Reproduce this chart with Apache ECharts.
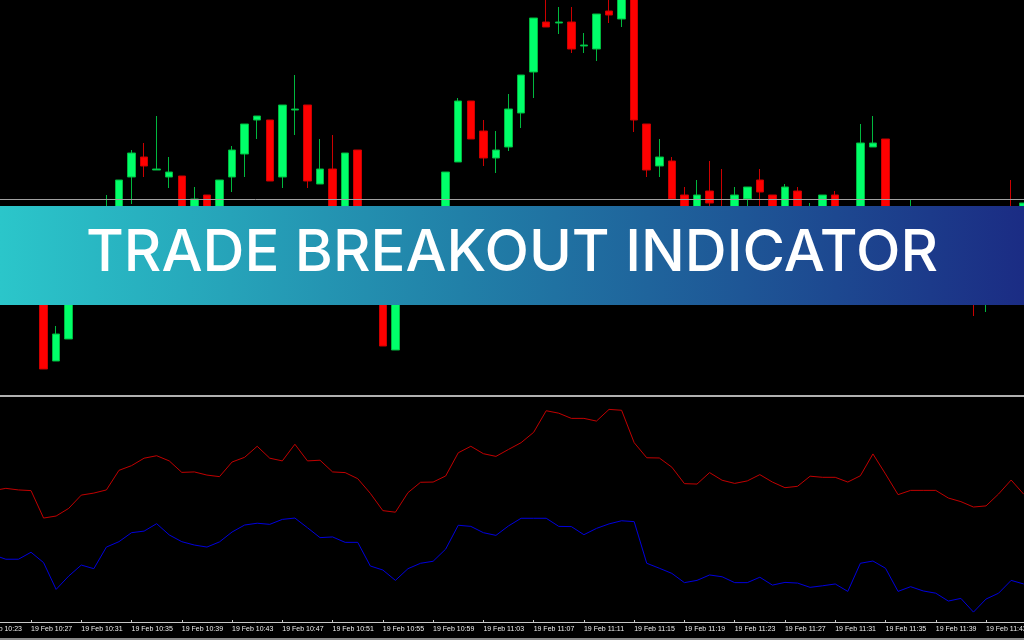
<!DOCTYPE html>
<html>
<head>
<meta charset="utf-8">
<script src="https://cdn.jsdelivr.net/npm/echarts@6.0.0/dist/echarts.min.js"></script>
<style>
html,body{margin:0;padding:0;background:#000;}
#chart{width:1024px;height:640px;}
</style>
</head>
<body>
<div id="chart"></div>
<script>
// ---- data ----
const times = [];
for (let m = 23; m <= 106; m++) {
  const h = 10 + Math.floor(m / 60);
  const mm = m % 60;
  times.push('19 Feb ' + h + ':' + (mm < 10 ? '0' + mm : mm));
}
// candles: [open, close, low, high] (price points)
const candles = [
  [1135,1155,1130,1160],[1155,1140,1133,1163],[1137,1150,1133,1155],[1150,1133,1127,1155],
  [1125,1145,1120,1150],[1173,1026,1026,1180],[1034,1061,1034,1069],[1056,1145,1056,1150],
  [1145,1170,1140,1175],[1165,1180,1160,1185],[1170,1185,1165,1200],[1180,1215,1175,1215],
  [1218,1242,1191,1245],[1238,1229,1218,1252],[1225,1226,1225,1279],[1218,1223,1207,1238],
  [1219,1170,1165,1219],[1155,1196,1150,1208],[1200,1165,1160,1200],[1175,1215,1170,1215],
  [1218,1245,1203,1249],[1241,1271,1218,1271],[1275,1279,1256,1279],[1275,1214,1214,1275],
  [1218,1290,1207,1290],[1285,1286,1260,1320],[1290,1214,1207,1290],[1211,1226,1211,1256],
  [1226,1155,1150,1260],[1150,1242,1145,1242],[1245,1135,1130,1245],[1133,1105,1100,1137],
  [1110,1049,1049,1115],[1045,1105,1045,1110],[1100,1135,1095,1140],[1130,1155,1125,1160],
  [1155,1145,1135,1160],[1145,1223,1140,1223],[1233,1294,1233,1297],[1294,1256,1256,1294],
  [1264,1237,1229,1275],[1237,1245,1222,1264],[1248,1286,1244,1301],[1282,1320,1267,1320],
  [1323,1377,1297,1377],[1373,1368,1368,1405],[1372,1373,1361,1388],[1373,1346,1342,1388],
  [1349,1350,1342,1362],[1346,1381,1334,1381],[1384,1380,1372,1400],[1376,1415,1368,1420],
  [1410,1275,1263,1415],[1271,1225,1218,1271],[1229,1238,1218,1256],[1234,1196,1196,1238],
  [1200,1165,1160,1208],[1160,1200,1155,1215],[1204,1192,1180,1234],[1185,1155,1150,1226],
  [1155,1200,1150,1208],[1196,1208,1180,1208],[1215,1203,1183,1226],[1200,1170,1165,1200],
  [1170,1208,1165,1211],[1204,1175,1170,1208],[1160,1180,1155,1192],[1165,1200,1160,1200],
  [1200,1170,1165,1204],[1165,1180,1160,1185],[1165,1252,1160,1271],[1248,1252,1248,1279],
  [1256,1135,1130,1256],[1140,1115,1110,1145],[1125,1145,1120,1196],[1145,1125,1120,1150],
  [1123,1140,1117,1145],[1140,1120,1115,1145],[1117,1133,1110,1137],[1133,1105,1079,1137],
  [1100,1125,1083,1130],[1120,1155,1115,1160],[1155,1125,1120,1215],[1135,1192,1130,1192]
];
const levelPrice = 1195.5;
const upperLine = [
  58.7,58.4,59.4,58.7,58.4,46.2,47.1,50.5,56.4,57.3,58.7,67.4,69.5,72.8,73.9,71.6,
  66.5,66.7,65.3,64.6,71.1,73.2,78.1,72.8,71.6,79.0,71.6,71.9,66.7,66.4,63.7,57.2,
  49.5,48.8,57.5,62.1,62.2,64.9,75.2,78.1,74.8,73.6,76.7,79.7,84.3,93.9,92.8,90.5,
  90.5,89.3,94.5,94.1,79.7,73.0,72.9,68.8,61.5,61.3,66.4,63.0,61.6,62.7,65.5,62.2,
  59.7,60.3,64.8,64.3,64.3,62.2,65.0,74.7,65.8,56.6,58.5,58.5,58.5,55.1,53.5,51.1,
  51.6,56.9,63.1,56.8
];
const lowerLine = [
  31.1,29.8,27.9,27.9,31.0,26.4,14.5,20.4,25.3,23.7,33.3,35.7,39.7,40.4,43.7,38.7,
  35.7,34.2,33.3,35.6,40.0,43.1,43.9,43.4,45.6,46.2,41.9,37.5,37.8,35.4,35.4,24.9,
  23.1,18.5,23.7,26.1,27.0,32.4,43.0,42.5,39.7,38.5,42.7,46.1,46.1,46.1,42.5,42.4,
  38.8,41.6,43.6,45.0,44.6,26.1,23.9,21.6,17.5,18.5,20.9,20.1,17.5,17.5,19.9,16.4,
  17.6,17.3,15.4,16.1,16.9,13.6,26.1,27.1,23.9,13.6,15.7,13.8,12.8,9.3,10.5,4.4,
  10.2,12.8,18.5,16.9
];
const bannerTitle = 'TRADE BREAKOUT INDICATOR';

// ---- chart ----
const step = 12.566;
const gridLeft = -19.26 - step / 2;
const gridWidth = step * times.length;
const chart = echarts.init(document.getElementById('chart'), null, {renderer: 'canvas'});
chart.setOption({
  backgroundColor: '#000000',
  animation: false,
  grid: [
    {left: gridLeft, width: gridWidth, top: 0, height: 395, outerBoundsMode: 'none', containLabel: false},
    {left: gridLeft, width: gridWidth, top: 397, height: 225, outerBoundsMode: 'none', containLabel: false}
  ],
  xAxis: [
    {type: 'category', gridIndex: 0, data: times, boundaryGap: true,
     axisLine: {show: false}, axisTick: {show: false}, axisLabel: {show: false}, splitLine: {show: false}},
    {type: 'category', gridIndex: 1, data: times, boundaryGap: true,
     axisLine: {show: true, lineStyle: {color: '#c8c8c8', width: 1}},
     axisTick: {show: true, interval: 3, alignWithLabel: true, inside: true, length: 2, lineStyle: {color: '#c8c8c8'}},
     axisLabel: {interval: 3, align: 'left', color: '#ececec', fontSize: 7, fontFamily: 'Liberation Sans', margin: 4, hideOverlap: false},
     splitLine: {show: false}}
  ],
  yAxis: [
    {type: 'value', gridIndex: 0, min: 1000, max: 1395, show: false, splitLine: {show: false}},
    {type: 'value', gridIndex: 1, min: 0, max: 100, show: false, splitLine: {show: false}}
  ],
  series: [
    {type: 'candlestick', xAxisIndex: 0, yAxisIndex: 0, data: candles, barWidth: 8,
     itemStyle: {color: '#00ff6a', color0: '#ff0000', borderColor: '#00b83e', borderColor0: '#cc0000', borderWidth: 1},
     markLine: {silent: true, symbol: ['none', 'none'], label: {show: false},
       lineStyle: {color: '#a0a0a0', width: 1, type: 'solid'},
       data: [{yAxis: levelPrice}]}},
    {type: 'line', xAxisIndex: 1, yAxisIndex: 1, data: upperLine, showSymbol: false,
     lineStyle: {color: '#c00000', width: 1}},
    {type: 'line', xAxisIndex: 1, yAxisIndex: 1, data: lowerLine, showSymbol: false,
     lineStyle: {color: '#0000dd', width: 1}}
  ],
  graphic: [
    {type: 'rect', z: 100, shape: {x: 0, y: 395, width: 1024, height: 2}, style: {fill: '#b0b0b0'}},
    {type: 'rect', z: 100, shape: {x: 0, y: 638, width: 1024, height: 2}, style: {fill: '#8a8a8a'}},
    {type: 'rect', z: 100, shape: {x: 0, y: 206, width: 1024, height: 99},
     style: {fill: new echarts.graphic.LinearGradient(0, 0, 1, 0, [
       {offset: 0, color: '#2bc6ca'},
       {offset: 0.45, color: '#2180a8'},
       {offset: 1, color: '#1b2c84'}
     ])}},
    {type: 'text', z: 101, x: 512, y: 254,
     style: {text: bannerTitle, fill: '#ffffff', font: '500 58px Inter', align: 'center', verticalAlign: 'middle'}}
  ]
});
</script>
</body>
</html>
